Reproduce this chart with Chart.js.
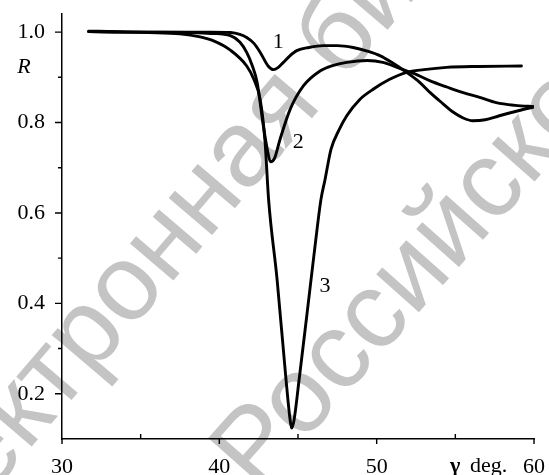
<!DOCTYPE html>
<html><head><meta charset="utf-8">
<script src="https://cdn.jsdelivr.net/npm/chart.js@4"></script>
<style>html,body{margin:0;padding:0;background:#fff}#wrap{width:549px;height:475px;position:relative}</style>
</head><body><div id="wrap"><canvas id="c" width="549" height="475"></canvas></div>
<script>
// ---- data ----
const curve1X = [31.7, 34, 36, 38, 39.5, 40.7, 41.3, 41.74, 42.2, 42.6, 43.1, 43.43, 43.75, 44.07, 44.5, 44.92, 45.7, 46.6, 47.5, 48.5, 49.4, 50.2, 51.0, 51.9, 52.7, 53.4, 54.2, 54.9, 55.5, 56.1, 56.9, 57.8, 59.0, 60.07];
const curve1Y = [1.001, 1.0, 1.0, 1.0, 1.0, 0.999, 0.995, 0.988, 0.975, 0.955, 0.925, 0.917, 0.922, 0.933, 0.948, 0.959, 0.966, 0.970, 0.970, 0.966, 0.958, 0.948, 0.932, 0.911, 0.89, 0.866, 0.842, 0.822, 0.81, 0.804, 0.806, 0.815, 0.826, 0.835];

const curve2X = [31.7, 34, 36, 38, 39.5, 40.7, 41.3, 41.74, 42.1, 42.4, 42.8, 43.05, 43.25, 43.5, 43.86, 44.5, 45.34, 46.4, 47.2, 48.1, 49.4, 50.4, 51.3, 52.4, 53.4, 54.5, 55.5, 56.6, 57.6, 58.8, 60.07];
const curve2Y = [1.001, 1.0, 1.0, 0.999, 0.997, 0.992, 0.978, 0.955, 0.925, 0.889, 0.792, 0.74, 0.713, 0.72, 0.763, 0.829, 0.881, 0.914, 0.926, 0.933, 0.937, 0.933, 0.922, 0.908, 0.892, 0.878, 0.866, 0.855, 0.844, 0.838, 0.835];

const curve3X = [31.7, 33.5, 35.5, 37.5, 38.7, 39.6, 40.7, 41.74, 42.2, 42.59, 42.9, 43.13, 43.67, 44.24, 44.5, 44.6, 44.75, 45.07, 45.58, 46.08, 46.46, 46.72, 47.1, 47.6, 48.1, 48.9, 49.8, 50.8, 51.9, 53.0, 54.45, 56.5, 59.2];
const curve3Y = [1.002, 1.001, 0.999, 0.996, 0.99, 0.981, 0.96, 0.925, 0.895, 0.852, 0.76, 0.63, 0.453, 0.231, 0.142, 0.124, 0.142, 0.231, 0.379, 0.526, 0.63, 0.674, 0.741, 0.783, 0.815, 0.85, 0.874, 0.895, 0.911, 0.917, 0.922, 0.924, 0.925];

const xTickValues = [30, 40, 50, 60];
const xMinorTicks = [35, 45, 55];
const yTickValues = [0.2, 0.4, 0.6, 0.8, 1.0];
const yMinorTicks = [0.3, 0.5, 0.7, 0.9];
const curveNames = ['1', '2', '3'];
const curveNameX = [43.75, 45.02, 46.72];
const curveNameY = [0.977, 0.756, 0.438];
const yAxisTitle = 'R';
const xAxisSymbol = 'γ';
const xAxisUnit = 'deg.';
const watermark1 = 'электронная библиотека';
const watermark2 = 'Российского';

const SERIF = "'Liberation Serif', 'Times New Roman', serif";

function pts(xs, ys) { return xs.map((x, i) => ({ x: x, y: ys[i] })); }
function ds(xs, ys) {
  return { data: pts(xs, ys), borderColor: '#000', borderWidth: 2.9, pointRadius: 0,
    fill: false, cubicInterpolationMode: 'monotone', borderCapStyle: 'round', borderJoinStyle: 'round' };
}

const decor = {
  id: 'decor',
  beforeDraw(chart) {
    const ctx = chart.ctx;
    ctx.save();
    ctx.fillStyle = '#fff';
    ctx.fillRect(0, 0, chart.width, chart.height);
    ctx.fillStyle = '#c4c4c4';
    ctx.font = "108px 'Liberation Sans', Arial, sans-serif";
    ctx.textBaseline = 'alphabetic';
    let a = -49.5 * Math.PI / 180;
    ctx.save();
    ctx.translate(27, 452);
    ctx.rotate(a);
    const pre = ctx.measureText('эле').width;
    ctx.fillText(watermark1, -pre, 0);
    ctx.restore();
    a = -48.5 * Math.PI / 180;
    ctx.save();
    ctx.translate(258, 494);
    ctx.rotate(a);
    ctx.fillText(watermark2, 0, 0);
    ctx.restore();
    ctx.restore();
  },
  afterDraw(chart) {
    const ctx = chart.ctx;
    const xs = chart.scales.x, ys = chart.scales.y;
    const area = chart.chartArea;
    ctx.save();
    ctx.strokeStyle = '#000';
    ctx.lineWidth = 1.4;
    ctx.beginPath();
    xTickValues.forEach(v => { const p = xs.getPixelForValue(v); ctx.moveTo(p, area.bottom); ctx.lineTo(p, area.bottom + 5); });
    xMinorTicks.forEach(v => { const p = xs.getPixelForValue(v); ctx.moveTo(p, area.bottom); ctx.lineTo(p, area.bottom - 5); });
    yTickValues.forEach(v => { const p = ys.getPixelForValue(v); ctx.moveTo(area.left - 7, p); ctx.lineTo(area.left, p); });
    yMinorTicks.forEach(v => { const p = ys.getPixelForValue(v); ctx.moveTo(area.left - 4, p); ctx.lineTo(area.left, p); });
    ctx.stroke();

    ctx.fillStyle = '#000';
    ctx.textAlign = 'center';
    ctx.textBaseline = 'middle';
    ctx.font = '22px ' + SERIF;
    curveNames.forEach((t, i) => {
      ctx.fillText(t, xs.getPixelForValue(curveNameX[i]), ys.getPixelForValue(curveNameY[i]));
    });
    ctx.font = 'italic 22px ' + SERIF;
    ctx.fillText(yAxisTitle, 24, ys.getPixelForValue(0.922));
    ctx.font = 'bold 22px ' + SERIF;
    ctx.textAlign = 'left';
    ctx.fillText(xAxisSymbol, 450, 466);
    ctx.font = '22px ' + SERIF;
    ctx.fillText(xAxisUnit, 470, 466);
    ctx.restore();
  }
};

new Chart(document.getElementById('c'), {
  type: 'line',
  data: { datasets: [ds(curve1X, curve1Y), ds(curve2X, curve2Y), ds(curve3X, curve3Y)] },
  options: {
    responsive: false, animation: false, devicePixelRatio: 1,
    layout: { padding: { left: 0, right: 15, top: 14, bottom: 0 } },
    plugins: { legend: { display: false }, tooltip: { enabled: false } },
    scales: {
      x: {
        type: 'linear', min: 30, max: 60,
        afterBuildTicks: s => { s.ticks = xTickValues.map(v => ({ value: v })); },
        afterFit: s => { s.height = 36; s.paddingLeft = 0; s.paddingRight = 0; },
        grid: { display: false, drawTicks: false },
        border: { display: true, color: '#000', width: 1.5 },
        ticks: { padding: 15, color: '#000', font: { family: SERIF, size: 22 }, maxRotation: 0, autoSkip: false,
          callback: v => String(v) }
      },
      y: {
        type: 'linear', min: 0.1, max: 1.04,
        afterBuildTicks: s => { s.ticks = yTickValues.map(v => ({ value: v })); },
        afterFit: s => { s.width = 62; s.paddingTop = 0; s.paddingBottom = 0; },
        grid: { display: false, drawTicks: false },
        border: { display: true, color: '#000', width: 1.5 },
        ticks: { padding: 17, color: '#000', font: { family: SERIF, size: 22 }, autoSkip: false,
          callback: v => v.toFixed(1) }
      }
    }
  },
  plugins: [decor]
});
</script>
</body></html>
